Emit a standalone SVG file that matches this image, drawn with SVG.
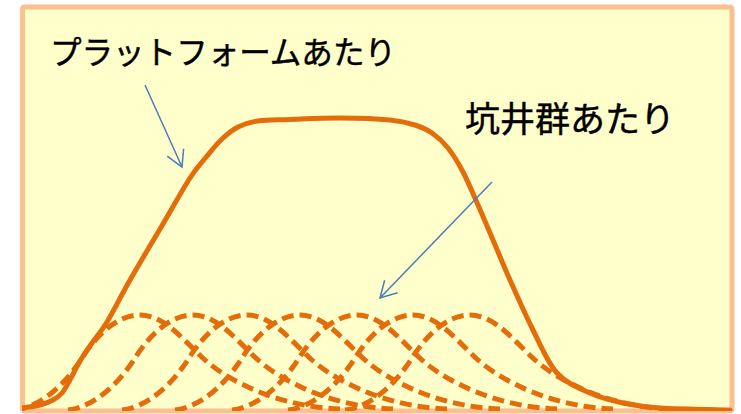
<svg xmlns="http://www.w3.org/2000/svg" width="741" height="414" viewBox="0 0 741 414">
<style>
.lbl{font-family:"Noto Sans CJK JP","Noto Sans",sans-serif;fill:#000;stroke:#000;stroke-width:0.45}
.solid{fill:none;stroke:#E46C0A;stroke-width:5;stroke-linecap:round;stroke-linejoin:round}
.dash{fill:none;stroke:#E46C0A;stroke-width:5;stroke-dasharray:12 6}
.arrow{fill:none;stroke:#4A7EBB;stroke-width:1.5}
</style>
<defs>
<clipPath id="inner"><rect x="22" y="5" width="712" height="406"/></clipPath>
<path id="well" d="M-125,410 C-100,407 -75,385 -58,358 C-46,339 -25,315 0,315 C25,315 45,342 65,360 C90,382 140,407 200,409"/>
<marker id="head" markerUnits="userSpaceOnUse" markerWidth="24" markerHeight="24" viewBox="-20 -12 24 24" refX="0" refY="0" orient="auto" overflow="visible">
<path d="M-16,-9 L0,0 L-16,9" fill="none" stroke="#4A7EBB" stroke-width="1.5"/>
</marker>
</defs>
<rect id="frame" x="22.5" y="7" width="709.5" height="404" rx="2" fill="#FFFFCC" stroke="#FAC090" stroke-width="5"/>
<g id="curves" clip-path="url(#inner)">
<g id="wells" class="dash">
<use href="#well" x="140"/>
<use href="#well" x="193"/>
<use href="#well" x="247"/>
<use href="#well" x="300"/>
<use href="#well" x="357"/>
<use href="#well" x="413"/>
<use href="#well" x="470"/>
</g>
<path id="platform" class="solid" d="M22,408 C25,407.5 34.83,406.33 40,405 C45.17,403.67 49.33,402 53,400 C56.67,398 59.17,396.33 62,393 C64.83,389.67 67,385.33 70,380 C73,374.67 76.33,367.17 80,361 C83.67,354.83 87.5,349.5 92,343 C96.5,336.5 100.67,332.5 107,322 C113.33,311.5 121.17,295.5 130,280 C138.83,264.5 150,246 160,229 C170,212 182.17,190.17 190,178 C197.83,165.83 201.67,162.5 207,156 C212.33,149.5 216.83,143.83 222,139 C227.17,134.17 232,130 238,127 C244,124 249.33,122.25 258,121 C266.67,119.75 276.33,120 290,119.5 C303.67,119 323.33,117.92 340,118 C356.67,118.08 377.5,118.83 390,120 C402.5,121.17 408,122.83 415,125 C422,127.17 426.5,129.17 432,133 C437.5,136.83 442.83,141.5 448,148 C453.17,154.5 458,162.5 463,172 C468,181.5 473,193.67 478,205 C483,216.33 487.67,227.5 493,240 C498.33,252.5 503.33,265 510,280 C516.67,295 525.17,314.5 533,330 C540.83,345.5 547.5,362.5 557,373 C566.5,383.5 579,388 590,393 C601,398 611.33,400.5 623,403 C634.67,405.5 642.17,406.83 660,408 C677.83,409.17 718.33,409.67 730,410"/>
</g>
<g id="label-platform"><text class="lbl" x="50" y="64" font-size="32" textLength="346" lengthAdjust="spacingAndGlyphs">プラットフォームあたり</text></g>
<g id="label-wells"><text class="lbl" x="465" y="132" font-size="35" textLength="210" lengthAdjust="spacingAndGlyphs">坑井群あたり</text></g>
<g id="connectors">
<line class="arrow" x1="145" y1="85" x2="182" y2="167" marker-end="url(#head)"/>
<line class="arrow" x1="492" y1="182" x2="380" y2="298" marker-end="url(#head)"/>
</g>
</svg>
